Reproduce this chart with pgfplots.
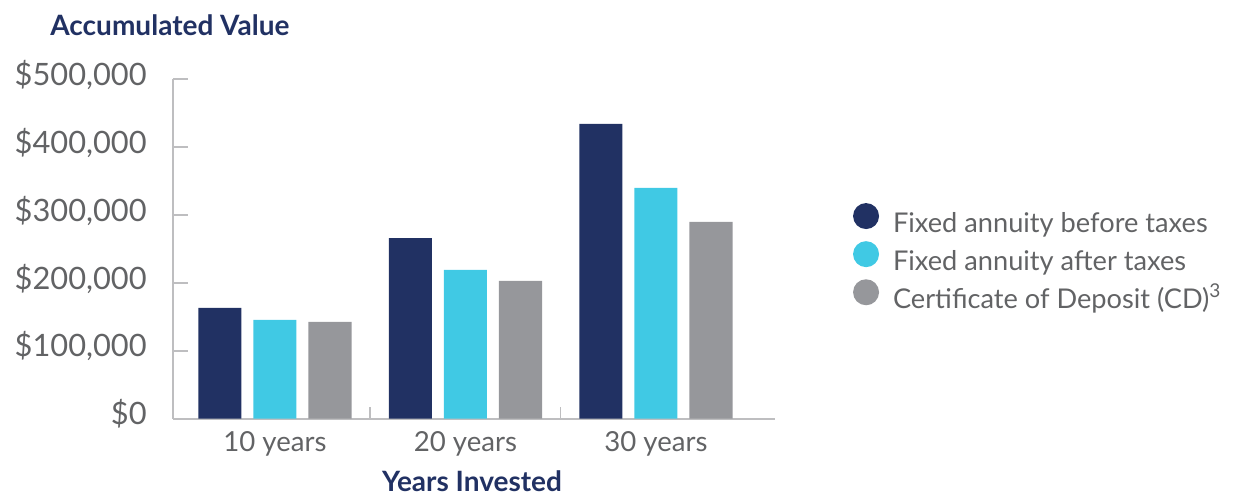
\documentclass[border=0pt]{standalone}
\usepackage{fontspec}
\setmainfont{Lato}
\usepackage{pgfplots}
\pgfplotsset{compat=1.18}
\definecolor{navy}{RGB}{33,49,99}
\definecolor{cyanbar}{RGB}{64,201,228}
\definecolor{graybar}{RGB}{150,151,155}
\definecolor{axisgray}{RGB}{190,190,192}
\definecolor{textgray}{RGB}{98,99,101}
\begin{document}
\begin{tikzpicture}[x=1pt,y=1pt]
\useasboundingbox (0,0) rectangle (627.5,247.5);
\begin{axis}[
  at={(86.5pt,38.15pt)}, anchor=south west,
  scale only axis, width=301pt, height=169.85pt,
  xmin=-0.535, xmax=2.625, ymin=0, ymax=500000,
  scaled y ticks=false,
  axis x line*=bottom, axis y line*=left,
  axis line style={draw=axisgray, line width=1pt},
  clip=false,
  tick align=inside,
  major tick length=7.5pt,
  ytick={0,100000,200000,300000,400000,500000},
  yticklabels={{\$0},{\$100,000},{\$200,000},{\$300,000},{\$400,000},{\$500,000}},
  ytick style={draw=axisgray, line width=0.8pt},
  yticklabel style={font=\fontsize{15.4}{18}\selectfont, text=textgray, anchor=base east, inner sep=0pt, outer sep=0pt, xshift=-13.15pt, yshift=-3.1pt},
  xtick={0,1,2},
  xticklabels={{10 years},{20 years},{30 years}},
  xtick style={draw=none},
  xticklabel style={font=\fontsize{13.8}{16}\selectfont, text=textgray, anchor=base, inner sep=0pt, outer sep=0pt, yshift=-16.5pt},
  extra x ticks={0.5,1.5},
  extra x tick labels={},
  extra x tick style={major tick length=6pt, xtick style={draw=axisgray, line width=0.8pt}},
  legend style={draw=none, fill=none, at={(axis description cs:1.129,0.471)}, anchor=west, inner sep=0pt, row sep=1.5pt, column sep=7pt,
    font=\fontsize{13.6}{16}\selectfont, text=textgray,
    nodes={inner sep=0pt, outer sep=0pt, text height=9.5pt, text depth=3pt}},
  legend cell align=left,
]
\addplot[ybar, bar width=0.226, bar shift=-0.289, fill=navy, draw=none,
  legend image code/.code={\fill[navy] (6.5pt,4.8pt) circle (6.5pt);}]
  coordinates {(0,163000) (1,265700) (2,434000)};
\addlegendentry{Fixed annuity before taxes}
\addplot[ybar, bar width=0.226, bar shift=0, fill=cyanbar, draw=none,
  legend image code/.code={\fill[cyanbar] (6.5pt,4.8pt) circle (6.5pt);}]
  coordinates {(0,145300) (1,218900) (2,339700)};
\addlegendentry{Fixed annuity after taxes}
\addplot[ybar, bar width=0.226, bar shift=0.289, fill=graybar, draw=none,
  legend image code/.code={\fill[graybar] (6.5pt,4.8pt) circle (6.5pt);}]
  coordinates {(0,142400) (1,202800) (2,289700)};
\addlegendentry{Certificate of Deposit (CD)\textsuperscript{3}}
\end{axis}
\node[anchor=base west, inner sep=0pt, text=navy, font=\fontsize{14}{17}\selectfont\bfseries] at (25,230) {Accumulated Value};
\node[anchor=base, inner sep=0pt, text=navy, font=\fontsize{14}{17}\selectfont\bfseries] at (236,1.8) {Years Invested};
\end{tikzpicture}
\end{document}
